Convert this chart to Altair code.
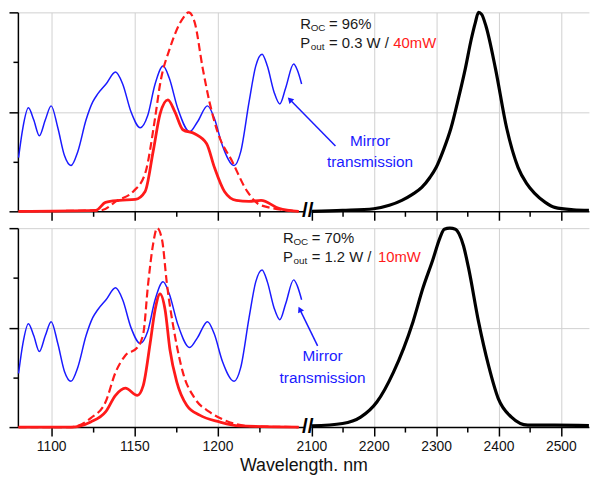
import altair as alt
import pandas as pd

FONT = "Liberation Sans"

# ---------------- data ----------------
# Mirror transmission (same curve in both panels), arbitrary units 0..1
blue_wl = [1080.4, 1083, 1086.3, 1089.5, 1092.9, 1096.5, 1100, 1104, 1108, 1111.9,
           1116, 1121, 1125, 1128, 1133, 1138.7, 1143, 1148, 1153.6, 1158,
           1162.5, 1167.3, 1171, 1176, 1183.3, 1188, 1194, 1198, 1203, 1210,
           1214, 1219, 1223, 1226.8, 1230, 1234, 1237.5, 1241, 1245.8, 1248, 1250.6]
blue_t = [0.27, 0.42, 0.52, 0.46, 0.38, 0.46, 0.53, 0.42, 0.28, 0.23,
          0.30, 0.46, 0.55, 0.59, 0.64, 0.70, 0.64, 0.50, 0.42, 0.48,
          0.64, 0.73, 0.67, 0.52, 0.40, 0.45, 0.53, 0.47, 0.33, 0.23,
          0.30, 0.55, 0.73, 0.79, 0.73, 0.60, 0.54, 0.62, 0.74, 0.71, 0.64]

# Top panel (R_OC = 96%)
top_solid_wl = [1080.4, 1126.8, 1132.7, 1141, 1150.6, 1156.5, 1161.3, 1165.5, 1170.2, 1174.4,
                1179.2, 1186.3, 1193.5, 1198.2, 1204.2, 1211.3, 1219, 1226.2, 1236.9, 1248.8]
top_solid_v = [0.0, 0.005, 0.045, 0.055, 0.06, 0.10, 0.30, 0.49, 0.56, 0.50,
               0.41, 0.39, 0.34, 0.22, 0.10, 0.055, 0.05, 0.055, 0.015, 0.0]
top_dash_wl = [1080.4, 1129.8, 1139.9, 1149.4, 1156.5, 1162.5, 1165.5, 1171.4, 1179.2, 1182.7,
               1186.3, 1191.1, 1195.2, 1200, 1208.9, 1217.9, 1226.2, 1248.8]
top_dash_v = [0.0, 0.005, 0.055, 0.10, 0.19, 0.47, 0.64, 0.82, 0.97, 1.0,
              0.95, 0.72, 0.55, 0.40, 0.25, 0.10, 0.03, 0.0]
top_black_wl = [2100, 2150, 2200, 2225, 2245, 2262, 2277, 2290, 2300, 2312, 2324, 2336, 2347,
                2356, 2363, 2368, 2373, 2380, 2395, 2413, 2431.5, 2445, 2458, 2475, 2490,
                2520, 2545]
top_black_v = [0.0, 0.005, 0.013, 0.03, 0.055, 0.085, 0.12, 0.17, 0.22, 0.31, 0.42, 0.57, 0.72,
               0.86, 0.95, 1.0, 0.99, 0.93, 0.72, 0.42, 0.22, 0.14, 0.09, 0.045, 0.02,
               0.008, 0.005]

# Bottom panel (R_OC = 70%)
bot_solid_wl = [1080.4, 1111.9, 1123.8, 1132.7, 1138.7, 1144.6, 1151.8, 1155.4, 1159.5, 1162.5,
                1165.5, 1168.5, 1171.4, 1175.6, 1181.5, 1189.3, 1201.2, 1213.1, 1248.8]
bot_solid_v = [0.0, 0.0, 0.026, 0.076, 0.16, 0.196, 0.16, 0.21, 0.42, 0.59,
               0.67, 0.59, 0.39, 0.225, 0.11, 0.06, 0.026, 0.006, 0.0]
bot_dash_wl = [1080.4, 1111.9, 1123.8, 1132.7, 1138.7, 1144.6, 1151.8, 1155.4, 1158.3, 1161.3,
               1163.7, 1166.7, 1169.6, 1174.4, 1179.2, 1186.3, 1195.2, 1204.2, 1219, 1248.8]
bot_dash_v = [0.0, 0.0, 0.045, 0.126, 0.275, 0.36, 0.40, 0.47, 0.72, 0.92,
              1.0, 0.94, 0.72, 0.46, 0.275, 0.145, 0.076, 0.035, 0.005, 0.0]
bot_black_wl = [2100, 2150, 2179, 2205, 2231.5, 2263, 2279, 2294.6, 2306, 2313,
                2322, 2331, 2337, 2344, 2352, 2368, 2384, 2399.7, 2420.8, 2447, 2490, 2545]
bot_black_v = [0.006, 0.018, 0.05, 0.126, 0.275, 0.53, 0.70, 0.84, 0.95, 0.995,
               1.0, 0.995, 0.97, 0.91, 0.80, 0.53, 0.31, 0.143, 0.05, 0.01, 0.01, 0.008]

# Annotations
roc_text = ["= 96%", "= 70%"]
pout_text = ["= 0.3 W /", "= 1.2 W /"]
pout_red = ["40mW", "10mW"]
ann_wl = [1249.8, 1239.4]
ann_v1 = [0.94, 0.95]
ann_v2 = [0.846, 0.856]
arrow_head_wl = [1243.5, 1249.5]
arrow_head_v = [0.562, 0.592]
arrow_tail_wl = [2138.6, 2110]
arrow_tail_v = [0.328, 0.408]
mirror_wl = [2194, 2118]
mirror_v1 = [0.353, 0.358]
mirror_v2 = [0.249, 0.249]
arrow_angle = [316, 334]

x_ticks = [1100, 1125, 1150, 1175, 1200, 1225, 2100, 2150, 2200, 2250, 2300, 2350,
           2400, 2450, 2500]
y_ticks = [0, 0.25, 0.5, 0.75, 1.0]

BLUE = "#1a1aff"
RED = "#ff1a1a"

X_SCALE = alt.Scale(domain=[1080, 1252, 2100, 2545], range=[0, 289, 296.5, 576.9],
                    nice=False, zero=False)
Y_SCALE = alt.Scale(domain=[0, 1], nice=False, zero=False)

MAJOR_X = "(datum.value % 100 === 0) || (datum.value === 1150)"
GRID_X = "((datum.value % 100 === 0) && datum.value !== 2100) || (datum.value === 1150)"
MAJOR_Y = "datum.value === 0 || datum.value === 0.5 || datum.value === 1"
GRID_Y = "datum.value === 0.5 || datum.value === 1"


def x_axis(show_labels):
    kw = dict(
        values=x_ticks, format="d",
        tickSize={"condition": {"test": MAJOR_X, "value": 9}, "value": 5},
        gridOpacity={"condition": {"test": GRID_X, "value": 1}, "value": 0},
        gridColor="#d0d0d0", domainColor="black", domainWidth=1.5,
        tickColor="black", tickWidth=1.5,
    )
    if show_labels:
        kw.update(labelExpr=f"({MAJOR_X}) ? datum.label : ''",
                  labelFont=FONT, labelFontSize=14, labelColor="#111",
                  labelPadding=4, title="Wavelength. nm", titleFont=FONT,
                  titleFontSize=18, titleFontWeight="normal", titleColor="#111",
                  titlePadding=3)
    else:
        kw.update(labels=False, title=None)
    return alt.Axis(**kw)


def y_axis():
    return alt.Axis(values=y_ticks, labels=False, title=None,
                    tickSize={"condition": {"test": MAJOR_Y, "value": 9}, "value": 5},
                    gridOpacity={"condition": {"test": GRID_Y, "value": 1}, "value": 0},
                    gridColor="#d0d0d0", domainColor="black", domainWidth=1.5,
                    tickColor="black", tickWidth=1.5)


def enc_x(field, show_labels):
    return alt.X(field, type="quantitative", scale=X_SCALE, axis=x_axis(show_labels))


def enc_y(field):
    return alt.Y(field, type="quantitative", scale=Y_SCALE, axis=y_axis())


def line(wl, v, color, width, show_labels, dash=None):
    df = pd.DataFrame({"wl": wl, "v": v})
    mk = dict(color=color, strokeWidth=width, interpolate="monotone", strokeJoin="round")
    if dash:
        mk["strokeDash"] = dash
    return alt.Chart(df).mark_line(**mk).encode(x=enc_x("wl", show_labels), y=enc_y("v"))


def panel(i, show_labels):
    sl = show_labels
    layers = [
        line(blue_wl, blue_t, BLUE, 1.5, sl),
        line(top_dash_wl if i == 0 else bot_dash_wl, top_dash_v if i == 0 else bot_dash_v,
             RED, 2.2, sl, dash=[8, 4]),
        line(top_solid_wl if i == 0 else bot_solid_wl, top_solid_v if i == 0 else bot_solid_v,
             RED, 2.8, sl),
        line(top_black_wl if i == 0 else bot_black_wl, top_black_v if i == 0 else bot_black_v,
             "black", 3.2, sl),
    ]
    # axis break marker
    brk = pd.DataFrame({"wl": [1252], "wl2": [2100], "v": [0.0], "t": ["//"], "wc": [1676]})
    layers.append(alt.Chart(brk).mark_rule(color="white", strokeWidth=4).encode(
        x=enc_x("wl", sl), x2="wl2:Q", y=enc_y("v")))
    layers.append(alt.Chart(brk).mark_text(font=FONT, fontSize=21, fontWeight="bold",
                                           color="black", baseline="middle", align="center").encode(
        x=enc_x("wc", sl), y=enc_y("v"), text="t:N"))

    ann = pd.DataFrame({"wl": [ann_wl[i]], "v1": [ann_v1[i]], "v2": [ann_v2[i]],
                        "R": ["R"], "OC": ["OC"], "roc": [roc_text[i]],
                        "P": ["P"], "out": ["out"], "pout": [pout_text[i]],
                        "red": [pout_red[i]]})
    base = alt.Chart(ann)
    xs = enc_x("wl", sl)
    common = dict(font=FONT, align="left", baseline="middle", color="#1a1a1a")
    layers += [
        base.mark_text(fontSize=15, **common).encode(x=xs, y=enc_y("v1"), text="R:N"),
        base.mark_text(fontSize=10, dx=10.5, dy=4, **common).encode(x=xs, y=enc_y("v1"), text="OC:N"),
        base.mark_text(fontSize=15, dx=29, **common).encode(x=xs, y=enc_y("v1"), text="roc:N"),
        base.mark_text(fontSize=15, **common).encode(x=xs, y=enc_y("v2"), text="P:N"),
        base.mark_text(fontSize=10, dx=10.5, dy=4, **common).encode(x=xs, y=enc_y("v2"), text="out:N"),
        base.mark_text(fontSize=15, dx=29, **common).encode(x=xs, y=enc_y("v2"), text="pout:N"),
        base.mark_text(fontSize=15, dx=94 if i == 0 else 96, font=FONT, align="left",
                       baseline="middle", color=RED).encode(x=xs, y=enc_y("v2"), text="red:N"),
    ]

    arr = pd.DataFrame({"hx": [arrow_head_wl[i]], "hy": [arrow_head_v[i]],
                        "tx": [arrow_tail_wl[i]], "ty": [arrow_tail_v[i]],
                        "ang": [arrow_angle[i]],
                        "mx": [mirror_wl[i]], "m1": [mirror_v1[i]], "m2": [mirror_v2[i]],
                        "a": ["Mirror"], "b": ["transmission"]})
    abase = alt.Chart(arr)
    layers += [
        abase.mark_rule(color=BLUE, strokeWidth=1.5).encode(
            x=enc_x("tx", sl), y=enc_y("ty"), x2="hx:Q", y2="hy:Q"),
        abase.mark_point(shape="triangle-up", filled=True, color=BLUE, size=45, opacity=1).encode(
            x=enc_x("hx", sl), y=enc_y("hy"), angle=alt.Angle("ang:Q", scale=None)),
        abase.mark_text(font=FONT, fontSize=15.5, color=BLUE, align="center", baseline="middle").encode(
            x=enc_x("mx", sl), y=enc_y("m1"), text="a:N"),
        abase.mark_text(font=FONT, fontSize=15.5, color=BLUE, align="center", baseline="middle").encode(
            x=enc_x("mx", sl), y=enc_y("m2"), text="b:N"),
    ]
    return alt.layer(*layers).properties(width=577, height=201)


chart = alt.vconcat(panel(0, False), panel(1, True), spacing=5).properties(
    padding={"left": 0, "top": 0, "right": 0, "bottom": 0}
).configure_view(stroke=None).configure_concat(spacing=5)

chart.save("out.html", embed_options={"renderer": "svg", "actions": False})
